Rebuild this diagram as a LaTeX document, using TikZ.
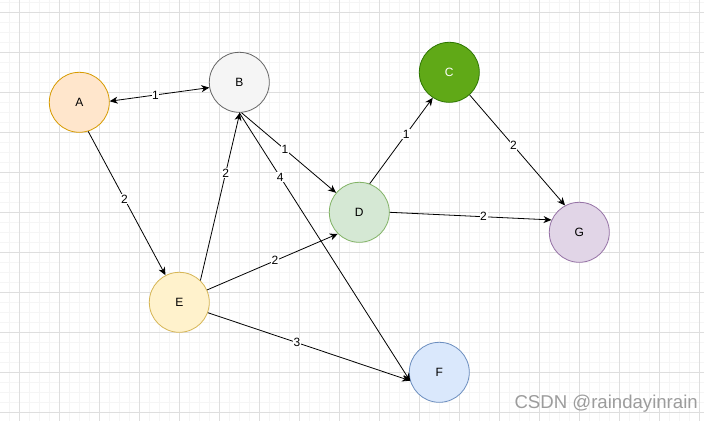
\documentclass[tikz,border=0pt]{standalone}
\usepackage{fontspec}
\setmainfont{Liberation Sans}
\usetikzlibrary{arrows.meta}
\definecolor{Afill}{HTML}{FFE6CC}\definecolor{Adraw}{HTML}{D79B00}
\definecolor{Bfill}{HTML}{F5F5F5}\definecolor{Bdraw}{HTML}{666666}
\definecolor{Cfill}{HTML}{60A917}\definecolor{Cdraw}{HTML}{2D7600}
\definecolor{Dfill}{HTML}{D5E8D4}\definecolor{Ddraw}{HTML}{82B366}
\definecolor{Efill}{HTML}{FFF2CC}\definecolor{Edraw}{HTML}{D6B656}
\definecolor{Ffill}{HTML}{DAE8FC}\definecolor{Fdraw}{HTML}{6C8EBF}
\definecolor{Gfill}{HTML}{E1D5E7}\definecolor{Gdraw}{HTML}{9673A6}
\definecolor{gridminor}{HTML}{F5F5F5}
\definecolor{gridmajor}{HTML}{DEDEDE}
\definecolor{wmark}{HTML}{9C9C9C}
\begin{document}
\begin{tikzpicture}[x=1pt,y=-1pt,
  vtx/.style={circle, minimum size=60pt, inner sep=0pt, line width=0.8pt, font=\fontsize{12}{14}\selectfont},
  edge/.style={line width=0.8pt, -{Stealth[length=8pt,width=7pt,inset=2.5pt]}},
  lbl/.style={fill=white, inner sep=0.6pt, font=\fontsize{12}{14}\selectfont},
  minorline/.style={gridminor, line width=0.6pt},
  majorline/.style={gridmajor, line width=0.7pt}]
\useasboundingbox (0,0) rectangle (704,421);
\fill[white] (0,0) rectangle (704,421);
% grid
\foreach \x in {9.3,19.3,...,704} \draw[minorline] (\x,0) -- (\x,421);
\foreach \y in {2.7,12.7,...,421} \draw[minorline] (0,\y) -- (704,\y);
\foreach \x in {19.3,59.3,...,704} \draw[majorline] (\x,0) -- (\x,421);
\foreach \y in {12.7,52.7,...,421} \draw[majorline] (0,\y) -- (704,\y);
% nodes
\node[vtx, fill=Afill, draw=Adraw] (A) at (79.3,102.3) {A};
\node[vtx, fill=Bfill, draw=Bdraw] (B) at (239.3,82.3) {B};
\node[vtx, fill=Cfill, draw=Cdraw, text=white] (C) at (449.3,72.3) {C};
\node[vtx, fill=Dfill, draw=Ddraw] (D) at (359.3,212.3) {D};
\node[vtx, fill=Efill, draw=Edraw] (E) at (179.3,302.3) {E};
\node[vtx, fill=Ffill, draw=Fdraw] (F) at (439.3,372.3) {F};
\node[vtx, fill=Gfill, draw=Gdraw] (G) at (579.3,232.3) {G};
% edges
\draw[edge, {Stealth[length=8pt,width=7pt,inset=2.5pt]}-{Stealth[length=8pt,width=7pt,inset=2.5pt]}] (A.2) -- node[lbl,pos=0.46]{1} (B.190);
\draw[edge] (A.-73) -- node[lbl,pos=0.47]{2} (E.117);
\draw[edge] (E.46) -- node[lbl,pos=0.64]{2} (B.-89);
\draw[edge] (B.-86) -- node[lbl,pos=0.46]{1} (D.140);
\draw[edge] (B.-90) -- node[lbl,pos=0.24]{4} (F.197);
\draw[edge] (D.70) -- node[lbl,pos=0.58]{1} (C.237);
\draw[edge] (C.-48) -- node[lbl,pos=0.46]{2} (G.118);
\draw[edge] (D.0) -- node[lbl,pos=0.58]{2} (G.156);
\draw[edge] (E.24) -- node[lbl,pos=0.52]{2} (D.225);
\draw[edge] (E.-20) -- node[lbl,pos=0.44]{3} (F.196);
% watermark
\node[anchor=base east, text=wmark, inner sep=0pt, font=\fontsize{18.6}{20}\selectfont] (wm) at (698,408) {CSDN @raindayinrain};
\end{tikzpicture}
\end{document}
